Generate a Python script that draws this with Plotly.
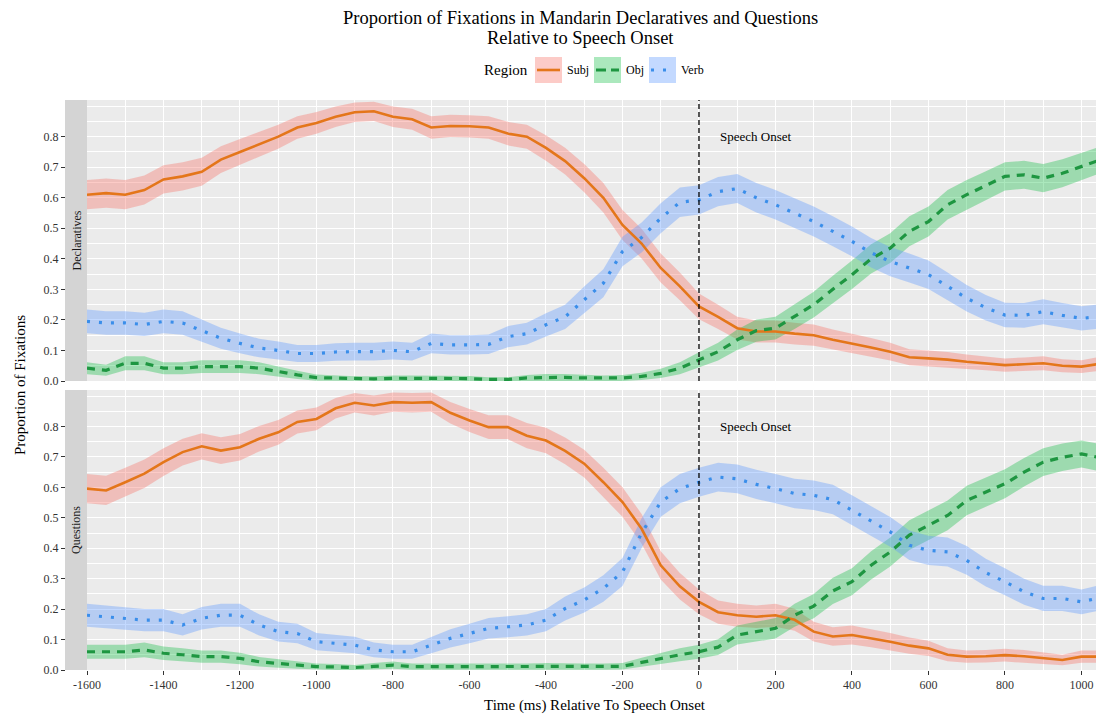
import numpy as np
import plotly.graph_objects as go

# ---------------- data ----------------
time_ms = [-1600, -1550, -1500, -1450, -1400, -1350, -1300, -1250, -1200, -1150,
           -1100, -1050, -1000, -950, -900, -850, -800, -750, -700, -650,
           -600, -550, -500, -450, -400, -350, -300, -250, -200, -150,
           -100, -50, 0, 50, 100, 150, 200, 250, 300, 350,
           400, 450, 500, 550, 600, 650, 700, 750, 800, 850,
           900, 950, 1000, 1040]

decl_subj = [0.61, 0.615, 0.61, 0.625, 0.66, 0.67, 0.685, 0.725, 0.75, 0.775,
             0.80, 0.83, 0.845, 0.865, 0.88, 0.883, 0.865, 0.857, 0.83, 0.835,
             0.834, 0.83, 0.81, 0.80, 0.763, 0.72, 0.664, 0.60, 0.511, 0.45,
             0.37, 0.31, 0.244, 0.21, 0.173, 0.162, 0.162, 0.155, 0.15, 0.135,
             0.123, 0.11, 0.096, 0.078, 0.074, 0.07, 0.063, 0.058, 0.052, 0.055,
             0.058, 0.05, 0.047, 0.055]
decl_obj = [0.042, 0.035, 0.058, 0.058, 0.042, 0.042, 0.047, 0.047, 0.047, 0.042,
            0.03, 0.02, 0.011, 0.009, 0.007, 0.007, 0.009, 0.009, 0.009, 0.008,
            0.008, 0.005, 0.005, 0.01, 0.012, 0.012, 0.01, 0.009, 0.01, 0.015,
            0.025, 0.042, 0.069, 0.096, 0.135, 0.165, 0.173, 0.21, 0.25, 0.30,
            0.348, 0.40, 0.435, 0.49, 0.522, 0.577, 0.61, 0.64, 0.67, 0.675,
            0.664, 0.68, 0.703, 0.72]
decl_verb = [0.195, 0.19, 0.19, 0.185, 0.195, 0.19, 0.165, 0.14, 0.123, 0.108,
             0.10, 0.09, 0.09, 0.095, 0.096, 0.096, 0.10, 0.096, 0.123, 0.118,
             0.118, 0.12, 0.145, 0.155, 0.184, 0.21, 0.266, 0.32, 0.424, 0.47,
             0.533, 0.585, 0.593, 0.62, 0.63, 0.60, 0.577, 0.55, 0.522, 0.49,
             0.457, 0.42, 0.391, 0.37, 0.348, 0.31, 0.271, 0.24, 0.216, 0.215,
             0.227, 0.215, 0.205, 0.21]

ques_subj = [0.596, 0.59, 0.617, 0.645, 0.683, 0.716, 0.735, 0.721, 0.732, 0.76,
             0.781, 0.815, 0.825, 0.86, 0.878, 0.869, 0.88, 0.878, 0.88, 0.845,
             0.82, 0.798, 0.798, 0.77, 0.754, 0.72, 0.678, 0.617, 0.552, 0.464,
             0.344, 0.275, 0.224, 0.19, 0.18, 0.175, 0.18, 0.165, 0.126, 0.11,
             0.115, 0.105, 0.093, 0.08, 0.071, 0.05, 0.044, 0.045, 0.049, 0.045,
             0.038, 0.033, 0.044, 0.044]
ques_obj = [0.06, 0.06, 0.06, 0.066, 0.055, 0.05, 0.044, 0.044, 0.038, 0.027,
            0.022, 0.016, 0.011, 0.01, 0.008, 0.012, 0.016, 0.011, 0.011, 0.01,
            0.011, 0.011, 0.011, 0.011, 0.012, 0.011, 0.011, 0.011, 0.012, 0.025,
            0.038, 0.05, 0.06, 0.075, 0.115, 0.125, 0.137, 0.18, 0.21, 0.26,
            0.29, 0.344, 0.388, 0.443, 0.475, 0.508, 0.557, 0.585, 0.612, 0.65,
            0.683, 0.699, 0.71, 0.70]
ques_verb = [0.18, 0.175, 0.169, 0.164, 0.164, 0.148, 0.17, 0.18, 0.18, 0.148,
             0.126, 0.12, 0.093, 0.087, 0.082, 0.066, 0.06, 0.06, 0.082, 0.104,
             0.12, 0.137, 0.142, 0.148, 0.164, 0.202, 0.23, 0.268, 0.322, 0.45,
             0.552, 0.596, 0.617, 0.634, 0.628, 0.61, 0.596, 0.58, 0.574, 0.56,
             0.525, 0.49, 0.454, 0.41, 0.393, 0.388, 0.36, 0.32, 0.29, 0.257,
             0.235, 0.235, 0.224, 0.235]

n_trials = 400          # used for the binomial 95% CI ribbons
z_value = 1.96

regions = ["Subj", "Obj", "Verb"]
panels = ["Declaratives", "Questions"]
x_tick_vals = [-1600, -1400, -1200, -1000, -800, -600, -400, -200, 0, 200, 400, 600, 800, 1000]
x_tick_text = ["-1600", "-1400", "-1200", "-1000", "-800", "-600", "-400", "-200",
               "0", "200", "400", "600", "800", "1000"]
y_tick_vals = [0.0, 0.1, 0.2, 0.3, 0.4, 0.5, 0.6, 0.7, 0.8]
y_tick_text = ["0.0", "0.1", "0.2", "0.3", "0.4", "0.5", "0.6", "0.7", "0.8"]
title_lines = ["Proportion of Fixations in Mandarin Declaratives and Questions",
               "Relative to Speech Onset"]
onset_label = "Speech Onset"
onset_label_x = 150
onset_label_y = 0.8

# ---------------- styles ----------------
FONT = "Liberation Serif"
line_color = {"Subj": "#E4761A", "Obj": "#1E9641", "Verb": "#3A8EEA"}
fill_color = {"Subj": "rgba(248,118,109,0.38)", "Obj": "rgba(0,186,56,0.33)",
              "Verb": "rgba(97,156,255,0.38)"}
line_dash = {"Subj": "solid", "Obj": "8px,7px", "Verb": "3px,9px"}
line_width = {"Subj": 2.6, "Obj": 3.2, "Verb": 3.2}

data = {
    "Declaratives": {"Subj": decl_subj, "Obj": decl_obj, "Verb": decl_verb},
    "Questions": {"Subj": ques_subj, "Obj": ques_obj, "Verb": ques_verb},
}

W, H = 1096, 716
ML, MR, MT, MB = 65, 0, 100, 46
PW, PH = W - ML - MR, H - MT - MB


def px(xp):
    return (xp - ML) / PW


def py(yp):
    return (H - MB - yp) / PH


strip_w = 22
x_dom = [px(ML + strip_w), 1.0]
y_doms = {"Declaratives": [py(381), 1.0], "Questions": [0.0, py(390)]}
axis_names = {"Declaratives": ("x", "y"), "Questions": ("x2", "y2")}

fig = go.Figure()
t = np.array(time_ms, dtype=float)

for panel in panels:
    xa, ya = axis_names[panel]
    for reg in regions:
        p = np.array(data[panel][reg], dtype=float)
        se = z_value * np.sqrt(p * (1 - p) / n_trials)
        lo = np.clip(p - se, 0, None)
        hi = p + se
        fig.add_trace(go.Scatter(
            x=np.concatenate([t, t[::-1]]), y=np.concatenate([hi, lo[::-1]]),
            fill="toself", fillcolor=fill_color[reg], line=dict(width=0),
            mode="lines", hoverinfo="skip", showlegend=False, xaxis=xa, yaxis=ya))
    for reg in regions:
        fig.add_trace(go.Scatter(
            x=t, y=data[panel][reg], mode="lines", name=reg,
            line=dict(color=line_color[reg], width=line_width[reg], dash=line_dash[reg]),
            showlegend=False, xaxis=xa, yaxis=ya))

axis_common = dict(showline=False, zeroline=False, gridcolor="white", gridwidth=1.4)
tick_font = dict(family=FONT, size=12, color="#333333")

fig.update_layout(
    width=W, height=H,
    margin=dict(l=ML, r=MR, t=MT, b=MB),
    paper_bgcolor="white", plot_bgcolor="#EBEBEB",
    font=dict(family=FONT, color="#000000"),
    showlegend=False,
    xaxis=dict(domain=x_dom, anchor="y", range=[-1600, 1038], tickvals=x_tick_vals,
               ticktext=x_tick_text, showticklabels=False, ticks="",
               minor=dict(tickmode="linear", tick0=-1600, dtick=100, showgrid=True,
                          gridcolor="white", gridwidth=0.7),
               **axis_common),
    xaxis2=dict(domain=x_dom, anchor="y2", matches="x", range=[-1600, 1038],
                tickvals=x_tick_vals, ticktext=x_tick_text, ticks="outside", ticklen=4,
                tickcolor="#333333", tickwidth=1, tickfont=tick_font,
                minor=dict(tickmode="linear", tick0=-1600, dtick=100, showgrid=True,
                           gridcolor="white", gridwidth=0.7),
                **axis_common),
)

for panel in panels:
    xa, ya = axis_names[panel]
    key = "yaxis" if ya == "y" else "yaxis2"
    fig.layout[key] = dict(
        domain=y_doms[panel], anchor="free", position=0, range=[0, 0.92],
        tickvals=y_tick_vals, ticktext=y_tick_text, ticks="outside", ticklen=4,
        tickcolor="#333333", tickwidth=1, tickfont=tick_font,
        minor=dict(tickmode="array",
                   tickvals=[0.05, 0.15, 0.25, 0.35, 0.45, 0.55, 0.65, 0.75, 0.85, 0.9],
                   showgrid=True, gridcolor="white", gridwidth=0.7),
        **axis_common)

shapes = []
annotations = []


def text(s, x, y, size, xanchor="center", angle=0, xref="paper", yref="paper", color="#000000"):
    annotations.append(dict(text=s, xref=xref, yref=yref, x=x, y=y, xanchor=xanchor,
                            yanchor="middle", textangle=angle, showarrow=False,
                            font=dict(family=FONT, size=size, color=color)))


# title
text(title_lines[0], px(580), py(18), 18.5)
text(title_lines[1], px(580), py(38), 18.5)

for panel in panels:
    xa, ya = axis_names[panel]
    d0, d1 = y_doms[panel]
    shapes.append(dict(type="rect", xref="paper", yref="paper", x0=0, x1=x_dom[0],
                       y0=d0, y1=d1, fillcolor="#D4D4D4", line=dict(width=0), layer="below"))
    text(panel, x_dom[0] / 2, (d0 + d1) / 2, 12, angle=-90, color="#1A1A1A")
    shapes.append(dict(type="line", xref=xa, yref=ya + " domain", x0=0, x1=0, y0=0, y1=1,
                       line=dict(color="black", width=1.3, dash="5px,3px")))
    text(onset_label, onset_label_x, onset_label_y, 13, xref=xa, yref=ya)

# axis titles
text("Proportion of Fixations", px(20), py(385), 15, angle=-90)
text("Time (ms) Relative To Speech Onset", px(595), py(705), 15)

# manual legend (ribbon box + line key)
text("Region", px(482), py(70), 15, xanchor="left")
legend_boxes = {"Subj": 535, "Obj": 594, "Verb": 649}
for reg in regions:
    bx = legend_boxes[reg]
    shapes.append(dict(type="rect", xref="paper", yref="paper", x0=px(bx), x1=px(bx + 27),
                       y0=py(83), y1=py(57), fillcolor=fill_color[reg], line=dict(width=0)))
    shapes.append(dict(type="line", xref="paper", yref="paper", x0=px(bx + 2), x1=px(bx + 25),
                       y0=py(70), y1=py(70),
                       line=dict(color=line_color[reg], width=line_width[reg],
                                 dash=line_dash[reg] if reg != "Obj" else "10px,5px")))
    text(reg, px(bx + 30), py(70), 12, xanchor="left")

fig.update_layout(shapes=shapes, annotations=annotations)
fig.write_html("out.html", config={"displayModeBar": False},
               post_script="document.body.style.margin='0px';document.body.style.padding='0px';")
